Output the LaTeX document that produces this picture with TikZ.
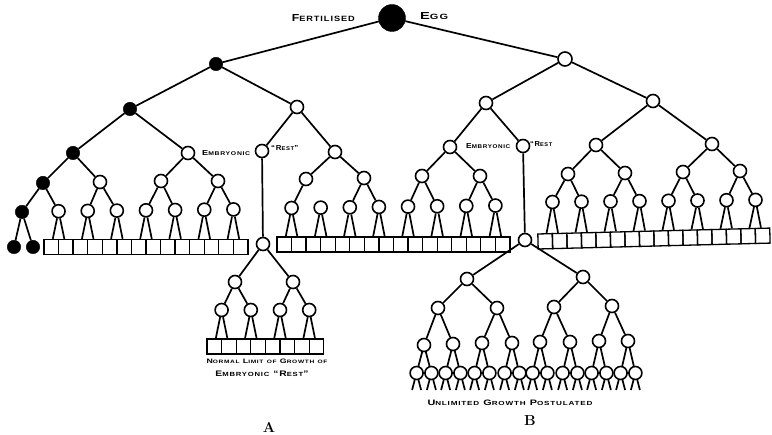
\documentclass[tikz,border=0pt]{standalone}
\usepackage{fontspec}
\usepackage{graphicx}
\newfontfamily\lab[LetterSpace=10]{Liberation Sans}
\newcommand\hbig{10}
\newcommand\hsml{7.5}
\newcommand\hcw[2]{{\fontsize{\hbig}{\hbig}\selectfont#1}{\fontsize{\hsml}{\hsml}\selectfont#2}}
\newcommand\fitw[3]{\resizebox{#1}{#2}{\lab\bfseries #3}}
\begin{document}
\begin{tikzpicture}[x=1pt,y=-1pt,
  ln/.style={line width=1.7pt},
  wn/.style={circle,draw,fill=white,line width=1.6pt,minimum size=13pt,inner sep=0pt},
  bn/.style={circle,fill=black,draw=black,minimum size=13.5pt,inner sep=0pt},
  bx/.style={rectangle,draw,line width=1.3pt,minimum width=14.57pt,minimum height=15pt,inner sep=0pt},
  lbl/.style={inner sep=0pt},
  big/.style={inner sep=0pt,font=\fontsize{14.5}{14.5}\selectfont\bfseries}]
\useasboundingbox (0,0) rectangle (772,435);
% upper tree
\node[bn,minimum size=27pt] (root) at (392,18) {};
\node[bn] (a) at (216,64) {};
\node[wn,minimum size=14pt] (b) at (565,59) {};
\node[bn] (a1) at (130,109) {};
\node[wn] (a2) at (297,107) {};
\node[wn] (b1) at (486,103) {};
\node[wn] (b2) at (653,101) {};
\node[bn] (a11) at (73,153) {};
\node[wn] (a12) at (188,153) {};
\node[wn] (a21) at (262,151) {};
\node[wn] (a22) at (335,152) {};
\node[wn] (b11) at (450,147) {};
\node[wn] (b12) at (523,146) {};
\node[wn] (b21) at (596,145) {};
\node[wn] (b22) at (712,144) {};
\node[bn] (a111) at (43,183) {};
\node[wn] (a112) at (100,182) {};
\node[wn] (a121) at (161,181) {};
\node[wn] (a122) at (218,181) {};
\node[wn] (a221) at (306,179) {};
\node[wn] (a222) at (364,178) {};
\node[wn] (b111) at (422,176) {};
\node[wn] (b112) at (480,176) {};
\node[wn] (b211) at (568,174) {};
\node[wn] (b212) at (625,173) {};
\node[wn] (b221) at (683,172) {};
\node[wn] (b222) at (740,171) {};
\foreach \p/\c in {root/a,root/b,a/a1,a/a2,b/b1,b/b2,a1/a11,a1/a12,a2/a21,a2/a22,
  b1/b11,b1/b12,b2/b21,b2/b22,a11/a111,a11/a112,a12/a121,a12/a122,a22/a221,a22/a222,
  b11/b111,b11/b112,b21/b211,b21/b212,b22/b221,b22/b222}
  \draw[ln] (\p) -- (\c);
% left row
\node[bn] (L0) at (22,212) {};
\node[bn] (k0) at (14,247) {};
\node[bn] (k1) at (33,247) {};
\draw[ln] (a111) -- (L0);
\draw[ln] (L0) -- (k0);
\draw[ln] (L0) -- (k1);
\foreach \i in {0,...,13} \node[bx] (lb\i) at ({44+14.57*(\i+0.5)},247) {};
\foreach \k in {1,...,7} \node[wn] (L\k) at ({44+29.14*(\k-0.5)},{211.5-0.3*\k}) {};
\foreach \p/\c in {a111/L1,a112/L2,a112/L3,a121/L4,a121/L5,a122/L6,a122/L7}
  \draw[ln] (\p) -- (\c);
\foreach \k in {1,...,7}{
  \pgfmathtruncatemacro\ba{2*\k-2}\pgfmathtruncatemacro\bb{2*\k-1}
  \draw[ln] (L\k) -- ([xshift=1.5pt]lb\ba.north);
  \draw[ln] (L\k) -- ([xshift=-1.5pt]lb\bb.north);}
% middle row
\foreach \i in {0,...,15} \node[bx,minimum width=14.56pt] (mb\i) at ({277+14.56*(\i+0.5)},244.5) {};
\foreach \k in {0,...,7} \node[wn] (M\k) at ({277+29.12*(\k+0.5)},{208-0.35*\k}) {};
\foreach \p/\c in {a221/M0,a222/M2,a222/M3,b111/M4,b111/M5,b112/M6,b112/M7}
  \draw[ln] (\p) -- (\c);
\foreach \k in {0,...,7}{
  \pgfmathtruncatemacro\ba{2*\k}\pgfmathtruncatemacro\bb{2*\k+1}
  \draw[ln] (M\k) -- ([xshift=1.5pt]mb\ba.north);
  \draw[ln] (M\k) -- ([xshift=-1.5pt]mb\bb.north);}
% right row (slightly tilted)
\begin{scope}[rotate around={1.46:(538,241.5)},transform shape]
\foreach \i in {0,...,15} \node[bx,minimum width=14.5pt] (rb\i) at ({538+14.5*(\i+0.5)},241.5) {};
\end{scope}
\foreach \k in {0,...,7} \node[wn] (R\k) at ({538+29*(\k+0.5)},{202-0.3*\k}) {};
\foreach \p/\c in {b211/R0,b211/R1,b212/R2,b212/R3,b221/R4,b221/R5,b222/R6,b222/R7}
  \draw[ln] (\p) -- (\c);
\foreach \k in {0,...,7}{
  \pgfmathtruncatemacro\ba{2*\k}\pgfmathtruncatemacro\bb{2*\k+1}
  \draw[ln] (R\k) -- ([xshift=1.5pt]rb\ba.north);
  \draw[ln] (R\k) -- ([xshift=-1.5pt]rb\bb.north);}
% rest A
\node[wn] (ra) at (263,244) {};
\draw[ln] (a21) -- (ra);
\node[wn] (ra1) at (235,282) {};
\node[wn] (ra2) at (293,282) {};
\draw[ln] (ra) -- (ra1);
\draw[ln] (ra) -- (ra2);
\foreach \i in {0,...,7} \node[bx,minimum width=14.6pt] (ab\i) at ({207+14.6*(\i+0.5)},346.5) {};
\foreach \k in {0,...,3} \node[wn] (AA\k) at ({207+29.2*(\k+0.5)},310) {};
\foreach \p/\c in {ra1/AA0,ra1/AA1,ra2/AA2,ra2/AA3} \draw[ln] (\p) -- (\c);
\foreach \k in {0,...,3}{
  \pgfmathtruncatemacro\ba{2*\k}\pgfmathtruncatemacro\bb{2*\k+1}
  \draw[ln] (AA\k) -- ([xshift=1.5pt]ab\ba.north);
  \draw[ln] (AA\k) -- ([xshift=-1.5pt]ab\bb.north);}
% rest B
\node[wn] (rb) at (525,240) {};
\draw[ln] (b12) -- (rb);
\node[wn] (rb1) at (467,279) {};
\node[wn] (rb2) at (583,277) {};
\draw[ln] (rb) -- (rb1);
\draw[ln] (rb) -- (rb2);
\node[wn] (q0) at (438,308) {};
\node[wn] (q1) at (497,308) {};
\node[wn] (q2) at (554,307) {};
\node[wn] (q3) at (612,306) {};
\foreach \p/\c in {rb1/q0,rb1/q1,rb2/q2,rb2/q3} \draw[ln] (\p) -- (\c);
\foreach \px/\py/\pp [count=\i from 0] in {424/345/q0,453/344/q0,482/343/q1,512/343/q1,540/342/q2,570/342/q2,599/341/q3,628/341/q3}{
  \node[wn] (p\i) at (\px,\py) {};
  \draw[ln] (\pp) -- (p\i);
  \pgfmathtruncatemacro\ja{2*\i}\pgfmathtruncatemacro\jb{2*\i+1}
  \node[wn] (s\ja) at ({\px-7.4},373) {};
  \node[wn] (s\jb) at ({\px+7.4},373) {};
  \draw[ln] (p\i) -- (s\ja);
  \draw[ln] (p\i) -- (s\jb);}
\foreach \j in {0,...,15}{
  \path (s\j) ++(-4.5,17) coordinate (fa\j);
  \path (s\j) ++(4.5,17) coordinate (fb\j);
  \draw[ln] (s\j.-105) -- (fa\j);
  \draw[ln] (s\j.-75) -- (fb\j);}
% labels
\node[lbl,anchor=east] (tf) at (355,18) {\fitw{63pt}{7pt}{\hcw{F}{ERTILISED}}};
\node[lbl,anchor=west] (te) at (420,16) {\fitw{28pt}{7pt}{\hcw{E}{GG}}};
\node[lbl,anchor=west] (te1) at (202,153) {\fitw{48pt}{5pt}{\hcw{E}{MBRYONIC}}};
\node[lbl,anchor=west] (tr1) at (271,148) {\fitw{27pt}{5pt}{\hcw{“R}{EST}\hcw{”}{}}};
\node[lbl,anchor=west] (te2) at (466,146.5) {\fitw{44pt}{5pt}{\hcw{E}{MBRYONIC}}};
\node[lbl,anchor=west] (tr2) at (530,144) {\fitw{22pt}{5pt}{\hcw{“R}{EST}}};
\node[lbl] (tn1) at (267,361) {\fitw{121pt}{4.5pt}{\hcw{N}{ORMAL} \hcw{L}{IMIT} \hcw{}{OF} \hcw{G}{ROWTH} \hcw{}{OF}}};
\node[lbl] (tn2) at (262,374) {\fitw{93pt}{5.5pt}{\hcw{E}{MBRYONIC} \hcw{“R}{EST}\hcw{”}{}}};
\node[lbl] (tu) at (510,403) {\fitw{165pt}{5.5pt}{\hcw{U}{NLIMITED} \hcw{G}{ROWTH} \hcw{P}{OSTULATED}}};
\node[big] (tA) at (269,427) {A};
\node[big] (tB) at (530,421) {B};
\end{tikzpicture}
\end{document}
